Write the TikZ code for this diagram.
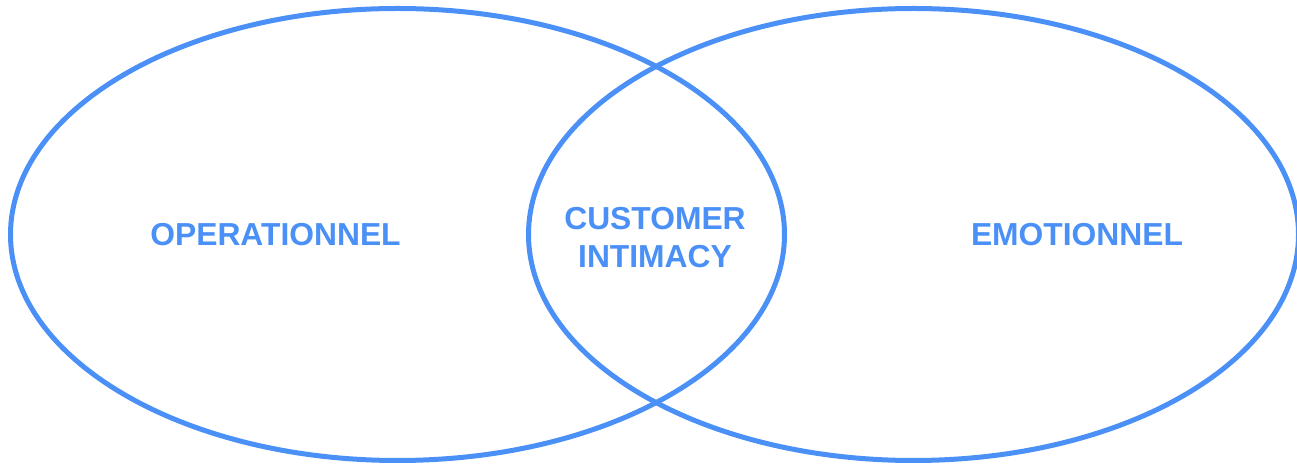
\documentclass[tikz,border=0pt]{standalone}
\usepackage{fontspec}
\setmainfont{Liberation Sans}
\usetikzlibrary{shapes.geometric}
\definecolor{vblue}{RGB}{74,144,246}
\tikzset{
  vset/.style={ellipse, draw=vblue, line width=5pt, inner sep=0pt, minimum height=452pt},
  vlabel/.style={text=vblue, font=\fontsize{31.8pt}{38pt}\selectfont\bfseries, align=center, inner sep=0pt}
}
\begin{document}
\begin{tikzpicture}[x=1pt,y=1pt]
\useasboundingbox (0,0) rectangle (1297,465);
\clip (0,0) rectangle (1297,465);
\node[vset, minimum width=774pt] (L) at (397.5,230.5) {};
\node[vset, minimum width=770pt] (R) at (913.5,230.5) {};
\node[vlabel] (op) at (275.5,230) {OPERATIONNEL};
\node[vlabel] (em) at (1077,230) {EMOTIONNEL};
\node[vlabel] (ci) at (655,227) {CUSTOMER\\INTIMACY};
\end{tikzpicture}
\end{document}
